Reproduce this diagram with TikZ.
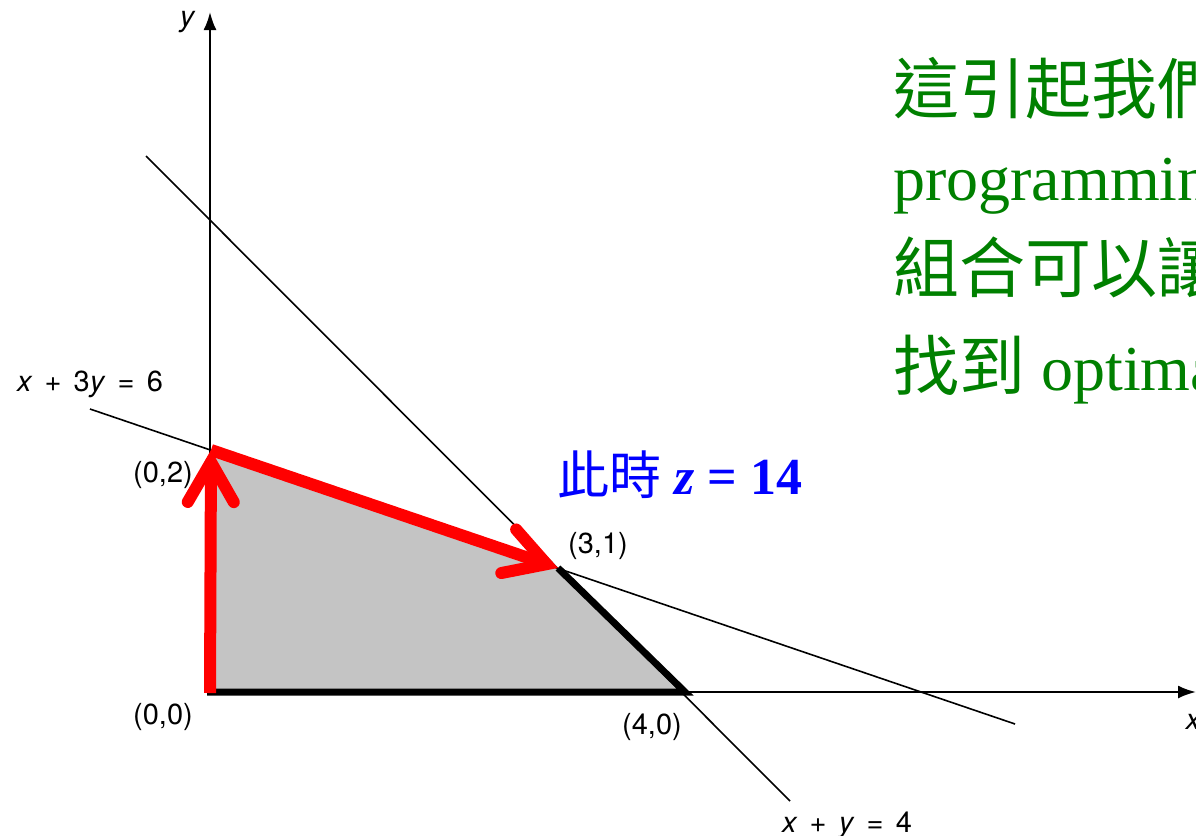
\documentclass[tikz,border=0pt]{standalone}
\usepackage{fontspec}
\setmainfont{Liberation Serif}
\newfontfamily\heros{TeX Gyre Heros}
\newfontfamily\cjk{Noto Sans CJK TC}
\usepackage{xcolor}
\usetikzlibrary{arrows.meta}
\definecolor{feasgray}{HTML}{C4C4C4}
\definecolor{notegreen}{HTML}{008000}
\newcommand\labelfont{\heros\fontsize{29}{33}\selectfont\spaceskip=0.42em\relax}
\newcommand\notecjk{\cjk\fontsize{66}{76}\selectfont}

\begin{document}
\begin{tikzpicture}[x=1pt, y=-1pt,
  lbl/.style={font=\labelfont, inner sep=0pt},
  note/.style={font=\fontsize{64}{72}\selectfont, text=notegreen, anchor=base west, inner sep=0pt},
  walk/.style={draw=red, line width=12pt, -{Straight Barb[length=40pt, width=46pt, line cap=round]}}
]
\clip (0,0) rectangle (1196,835);

\coordinate (O) at (210,692);
\coordinate (A) at (211,450);
\coordinate (B) at (558,568);
\coordinate (C) at (685,692);

\fill[feasgray] (O) -- (A) -- (B) -- (C) -- cycle;

\draw[line width=1.6pt] (90,409) -- (1015,724);
\draw[line width=1.6pt] (146,156) -- (790,801);

\draw[-{Latex[length=18pt, width=13pt]}, line width=2.2pt] (O) -- (1196,692);
\draw[-{Latex[length=18pt, width=13pt]}, line width=2.2pt] (O) -- (210,12);

\draw[line width=7pt] (207,692) -- (C) -- (B);

\draw[walk] (210,693) -- (A);
\draw[walk] (A) -- (B);

\node[lbl] (ylab) at (187,22) {\itshape y};
\node[lbl] (xlab) at (1193,722) {\itshape x};
\node[lbl] (eqone) at (90,384) {\textit{x} + 3\textit{y} = 6};
\node[lbl, anchor=base] (eqtwo) at (847,832) {\textit{x} + \textit{y} = 4};
\node[lbl] (pzt) at (163,475) {(0,2)};
\node[lbl] (pto) at (598,546) {(3,1)};
\node[lbl] (pzz) at (163,717) {(0,0)};
\node[lbl] (pfz) at (652,727) {(4,0)};

\node[anchor=base west, inner sep=0pt, text=blue, font=\fontsize{52}{60}\selectfont] (zval) at (557,494)
  {{\cjk 此時} \textbf{\textit{z} = 14}};

\node[note] (nl1) at (893,113) {\notecjk 這引起我們};
\node[note] (nl2) at (893,200) {programming};
\node[note] (nl3) at (893,292) {\notecjk 組合可以讓};
\node[note] (nl4) at (893,390) {{\notecjk 找到} optimal};
\end{tikzpicture}
\end{document}
